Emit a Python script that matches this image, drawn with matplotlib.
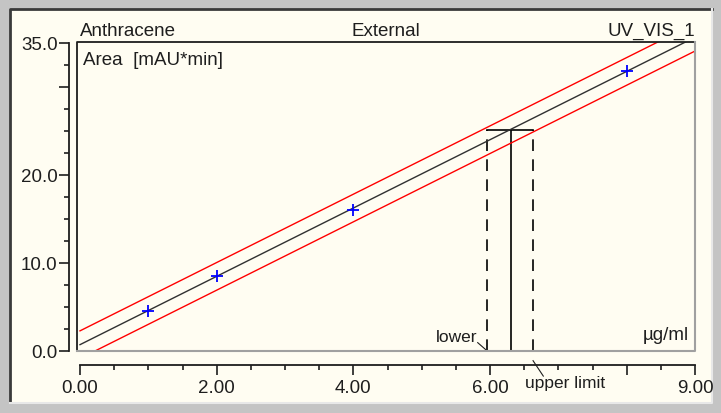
import matplotlib.pyplot as plt
import numpy as np
from matplotlib.patches import Rectangle
from matplotlib.lines import Line2D

# calibration standards (amount in ug/ml, peak area in mAU*min)
std_amount = [1.0, 2.0, 4.0, 8.0]
std_area = [4.5, 8.5, 16.0, 31.8]

# fitted line and band offset
fit_slope = 3.88
fit_offset = 0.72
band_width = 1.57

# unknown sample
sample_area = 25.1
sample_amount = 6.30
amount_lower = 5.96
amount_upper = 6.63

x_labels = {0: '0.00', 2: '2.00', 4: '4.00', 6: '6.00', 9: '9.00'}
y_labels = {0: '0.0', 10: '10.0', 20: '20.0', 35: '35.0'}

W, H = 721, 414
cream = '#FFFDF2'
ink = '#1E1E1E'
fs = 13.5
plt.rcParams['font.family'] = ['Liberation Sans', 'DejaVu Sans']

fig = plt.figure(figsize=(W / 100, H / 100), dpi=100)
fig.patch.set_facecolor('#C4C4C4')

def px(x0, y0, x1, y1):
    # pixel box -> figure fraction [l, b, w, h]
    return [x0 / W, 1 - y1 / H, (x1 - x0) / W, (y1 - y0) / H]

# panel background with sunken edge
fig.add_artist(Rectangle((10 / W, 1 - 403 / H), 702 / W, 393 / H,
                         transform=fig.transFigure, facecolor=cream,
                         edgecolor='none', zorder=-2))
fig.add_artist(Line2D([10 / W, 10 / W, 712 / W], [1 - 403 / H, 1 - 10 / H, 1 - 10 / H],
                      transform=fig.transFigure, color='#3A3A3A', lw=2, zorder=-1))
fig.add_artist(Line2D([10 / W, 712 / W, 712 / W], [1 - 404 / H, 1 - 404 / H, 1 - 10 / H],
                      transform=fig.transFigure, color='#E8E8E8', lw=1.5, zorder=-1))

ax = fig.add_axes(px(77, 43, 695, 352))
ax.set_facecolor(cream)
ax.set_xlim(-0.044, 9.0)
ax.set_ylim(0, 35.1)

xs = np.array([0.0, 9.0])
ax.plot(xs, fit_slope * xs + fit_offset, color='#303030', lw=1.0, zorder=3)
ax.plot(xs, fit_slope * xs + fit_offset + band_width, color='#FF0000', lw=1.0, zorder=3)
ax.plot(xs, fit_slope * xs + fit_offset - band_width, color='#FF0000', lw=1.0, zorder=3)
ax.plot(std_amount, std_area, '+', color='#0000FF', ms=9, mew=1.3, zorder=4)

ax.plot([amount_lower, amount_upper], [sample_area, sample_area], color='black', lw=1.2)
ax.plot([sample_amount, sample_amount], [0, sample_area], color='black', lw=1.2)
ax.plot([amount_lower, amount_lower], [0, sample_area], color='black', lw=1.2, ls=(0, (7, 5)))
ax.plot([amount_upper, amount_upper], [0, sample_area], color='black', lw=1.2, ls=(0, (7, 5)))

# box: dark top/left, grey bottom/right
for s in ['top', 'right', 'bottom', 'left']:
    ax.spines[s].set_visible(False)
ax.plot([0, 0, 1], [0, 1, 1], transform=ax.transAxes, color=ink, lw=1.3, clip_on=False, zorder=5)
ax.plot([0, 1, 1], [0, 0, 1], transform=ax.transAxes, color='#A0A0A0', lw=1.5, clip_on=False, zorder=5)

# detached axis lines
ax.spines['left'].set_visible(True)
ax.spines['left'].set_position(('outward', 6))
ax.spines['left'].set_bounds(0, 35)
ax.spines['left'].set_linewidth(1.3)
ax.spines['left'].set_color(ink)
ax.spines['bottom'].set_visible(True)
ax.spines['bottom'].set_position(('outward', 10))
ax.spines['bottom'].set_bounds(0, 9)
ax.spines['bottom'].set_linewidth(1.3)
ax.spines['bottom'].set_color(ink)

ax.set_xticks([0, 2, 4, 6, 8, 9])
ax.set_xticklabels([x_labels.get(t, '') for t in [0, 2, 4, 6, 8, 9]])
ax.set_xticks(np.arange(0, 9.01, 0.5), minor=True)
ax.set_yticks([0, 10, 20, 30, 35])
ax.set_yticklabels([y_labels.get(t, '') for t in [0, 10, 20, 30, 35]])
ax.set_yticks(np.arange(0, 35.01, 2.5), minor=True)
ax.tick_params(which='major', direction='out', length=7, width=1.2, color=ink,
               labelsize=fs, labelcolor=ink, pad=1)
ax.tick_params(which='minor', direction='out', length=3.5, width=1.2, color=ink)
ax.tick_params(axis='x', which='major', pad=3)

ax.text(0.005, 1.01, 'Anthracene', transform=ax.transAxes, ha='left', va='bottom', fontsize=fs, color=ink)
ax.text(0.5, 1.01, 'External', transform=ax.transAxes, ha='center', va='bottom', fontsize=fs, color=ink)
ax.text(1.0, 1.01, 'UV_VIS_1', transform=ax.transAxes, ha='right', va='bottom', fontsize=fs, color=ink)
ax.text(0.01, 0.97, 'Area  [mAU*min]', transform=ax.transAxes, ha='left', va='top', fontsize=fs, color=ink)
ax.text(0.99, 0.025, 'µg/ml', transform=ax.transAxes, ha='right', va='bottom', fontsize=fs, color=ink)

# limit labels with leader lines
ax.text(amount_lower - 0.14, 1.7, 'lower', ha='right', va='center', fontsize=12.5, color=ink)
ax.plot([amount_lower - 0.14, amount_lower], [0.95, 0.0], color=ink, lw=0.8, clip_on=False)
ax.text(amount_upper - 0.12, -3.6, 'upper limit', ha='left', va='center', fontsize=12.5, color=ink)
ax.plot([amount_upper, amount_upper + 0.15], [-1.1, -2.85], color=ink, lw=0.8, clip_on=False)

fig.savefig('out.png', dpi=100, facecolor=fig.get_facecolor())
